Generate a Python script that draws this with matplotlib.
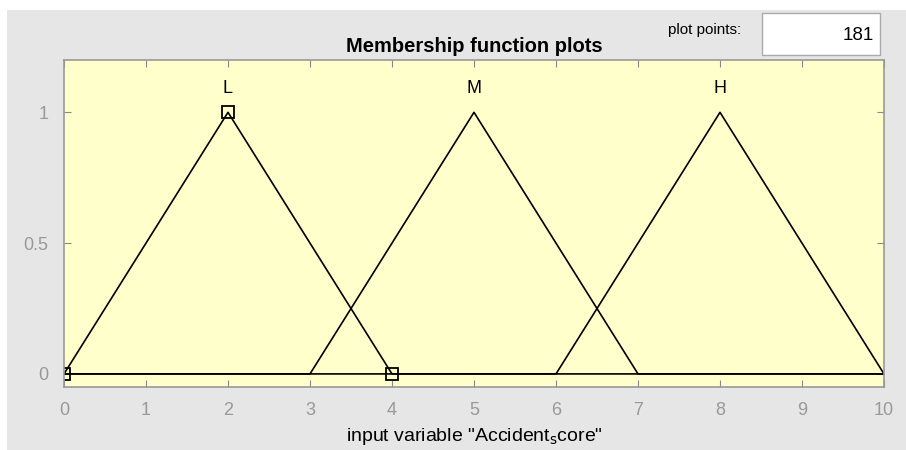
import matplotlib.pyplot as plt
from matplotlib.patches import Rectangle

plt.rcParams['font.family'] = ['Liberation Sans', 'DejaVu Sans']

# membership functions (vertices, extended with zero to the range ends)
mf_names = ['L', 'M', 'H']
mf_x = [[0, 2, 4, 10], [0, 3, 5, 7, 10], [0, 6, 8, 10]]
mf_y = [[0, 1, 0, 0], [0, 0, 1, 0, 0], [0, 0, 1, 0]]
mf_peak = [2, 5, 8]

# selected MF (L) vertices get square markers
sel_x = [0, 2, 4]
sel_y = [0, 1, 0]

xticks = list(range(0, 11))
yticks = [0, 0.5, 1]
yticklabels = ['0', '0.5', '1']
n_points = 181

fig = plt.figure(figsize=(9.06, 4.5), dpi=100)
fig.patch.set_facecolor('white')
fig.patches.append(Rectangle((7 / 906, 0), 1, 440 / 450, transform=fig.transFigure,
                             facecolor='#e6e6e6', edgecolor='none', zorder=-5))

ax = fig.add_axes([64 / 906, 63 / 450, 820 / 906, 327 / 450])
ax.set_zorder(2)
ax.set_facecolor('#ffffcc')

for name, xs, ys, pk in zip(mf_names, mf_x, mf_y, mf_peak):
    ax.plot(xs, ys, color='black', lw=1.2)
    ax.text(pk, 1.09, name, ha='center', va='center', fontsize=13)

ax.plot(sel_x, sel_y, ls='none', marker='s', ms=8, mfc='none', mec='black', mew=1.3)

ax.set_xlim(0, 10)
ax.set_ylim(-0.05, 1.2)
ax.set_xticks(xticks)
ax.set_yticks(yticks)
ax.set_yticklabels(yticklabels)
ax.tick_params(direction='in', top=True, right=True, colors='#888888',
               labelcolor='#999999', labelsize=13, length=5, pad=11)
for sp in ax.spines.values():
    sp.set_color('#999999')
    sp.set_linewidth(1.2)

ax.set_title('Membership function plots', fontsize=14.5, fontweight='bold', pad=6)
ax.set_xlabel(r'input variable "Accident$_\mathrm{s}$core"', fontsize=14, labelpad=5)

# plot points box
fig.text(705 / 906, 1 - 30 / 450, 'plot points:', ha='center', va='center', fontsize=11)
fig.patches.append(Rectangle((762 / 906, 1 - 55 / 450), 118 / 906, 42 / 450,
                             transform=fig.transFigure, facecolor='white',
                             edgecolor='#aaaaaa', lw=1, zorder=1))
fig.text(874 / 906, 1 - 36 / 450, str(n_points), ha='right', va='center', fontsize=13.5)

fig.savefig('out.png', dpi=100)
